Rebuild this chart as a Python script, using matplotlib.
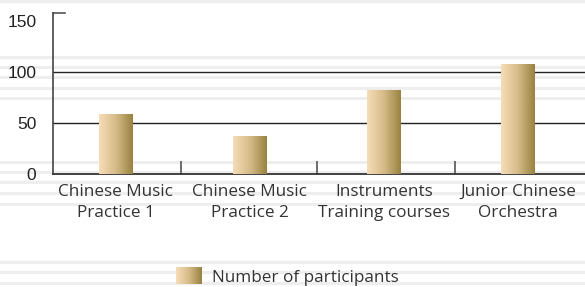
import numpy as np
import matplotlib
matplotlib.use("Agg")
import matplotlib.pyplot as plt
from matplotlib.colors import LinearSegmentedColormap
from matplotlib.legend_handler import HandlerBase
from matplotlib.image import BboxImage
from matplotlib.transforms import Bbox, TransformedBbox
from matplotlib.patches import Rectangle
from matplotlib.lines import Line2D

# data
categories = ["Chinese Music\nPractice 1", "Chinese Music\nPractice 2",
              "Instruments\nTraining courses", "Junior Chinese\nOrchestra"]
participants = [58, 37, 82, 107]
yticks = [0, 50, 100, 150]
series_name = "Number of participants"

# background stripes (pixel rows from the top of the picture)
stripe_rows = [1, 57, 67, 77, 88, 98, 162, 172, 182, 193, 204, 262, 272, 283]

W, H = 585, 287
fig = plt.figure(figsize=(W / 100, H / 100), dpi=100)
fig.patch.set_facecolor("white")

for r in stripe_rows:
    fig.add_artist(Line2D([0, 1], [1 - r / H, 1 - r / H], transform=fig.transFigure,
                          color="#eeeeee", lw=2.2, zorder=0))

ax = fig.add_axes([53 / W, (H - 174) / H, (W - 53) / W, 161 / H])
ax.patch.set_alpha(0)

gold = LinearSegmentedColormap.from_list("gold", ["#f7ddb8", "#d6bb88", "#988240"])
grad = np.linspace(0, 1, 256).reshape(1, -1)

x = np.arange(len(categories))
bars = ax.bar(x, participants, width=0.25, color="none", zorder=3)
for b in bars:
    x0, y0, w, h = b.get_x(), b.get_y(), b.get_width(), b.get_height()
    ax.imshow(grad, cmap=gold, aspect="auto", extent=(x0, x0 + w, y0, y0 + h),
              zorder=3, interpolation="bicubic")

ax.set_xlim(-0.466, 3.5)
ax.set_ylim(0, 158)

for y in yticks[1:3]:
    ax.axhline(y, color="#222222", lw=1.0, zorder=2)

ax.vlines([0.49, 1.5, 2.53], 0, 13, color="#555555", lw=1.2, zorder=2)
ax.plot([0, 0.022], [1, 1], transform=ax.transAxes, color="#555555", lw=1.2, clip_on=False)

for s in ["top", "right"]:
    ax.spines[s].set_visible(False)
ax.spines["left"].set_color("#444444")
ax.spines["bottom"].set_color("#333333")
ax.spines["left"].set_linewidth(1.2)
ax.spines["bottom"].set_linewidth(1.3)

ax.set_yticks(yticks)
ax.set_yticklabels([str(v) for v in yticks], fontfamily="Liberation Sans", fontsize=12.5,
                   color="#222222")
ax.tick_params(axis="y", length=0, pad=12)
ax.set_xticks(x)
ax.set_xticklabels(categories, fontfamily="Open Sans", fontsize=12.3, color="#333333",
                   linespacing=1.42)
ax.tick_params(axis="x", length=0, pad=7)


class GradientHandler(HandlerBase):
    def create_artists(self, legend, orig_handle, xdescent, ydescent, width, height,
                       fontsize, trans):
        bb = Bbox.from_bounds(-xdescent, -ydescent, width, height)
        img = BboxImage(TransformedBbox(bb, trans), cmap=gold, interpolation="bicubic")
        img.set_data(grad)
        return [img]


handle = Rectangle((0, 0), 1, 1)
fig.legend([handle], [series_name], handler_map={Rectangle: GradientHandler()},
           loc="center", bbox_to_anchor=(287 / W, 1 - 277 / H), frameon=False,
           prop={"family": "Open Sans", "size": 12.3}, handlelength=1.5,
           handleheight=1.1, handletextpad=0.6, labelcolor="#333333")

fig.savefig("out.png", dpi=100)
